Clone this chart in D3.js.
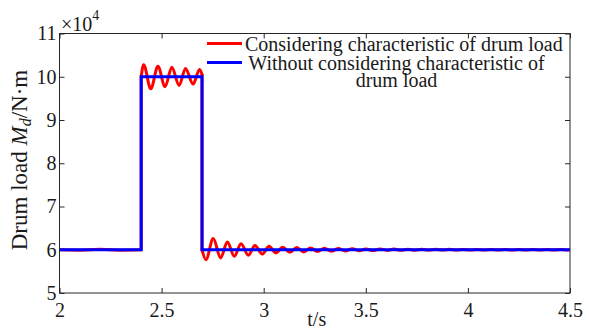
<!DOCTYPE html>
<html>
<head>
<meta charset="utf-8">
<script src="https://cdn.jsdelivr.net/npm/d3@7"></script>
<style>
  html, body { margin: 0; padding: 0; background: #fff; }
  svg { display: block; }
  text { font-family: "Liberation Serif", "Times New Roman", serif; fill: #1a1a1a; }
</style>
</head>
<body>
<svg id="chart" width="589" height="331"></svg>
<script>
// Drum load torque (N·m) versus time (s)
const xTicks = [2, 2.5, 3, 3.5, 4, 4.5];
const yTicks = [50000, 60000, 70000, 80000, 90000, 100000, 110000];

// Load without the drum characteristic: ideal step
const stepLoad = [
  [2.0, 60000], [2.4, 60000], [2.4, 100000], [2.698, 100000], [2.698, 60000], [4.5, 60000]
];

// Load with the drum characteristic, split where the load jumps
const charBefore = [
  [2.0, 60000], [2.1, 59900], [2.2, 60100], [2.3, 59900], [2.4, 60000], [2.4, 100000]
];
const charHigh = [
  [2.4, 100000], [2.412, 102800], [2.447, 97200], [2.482, 102400], [2.517, 97700],
  [2.550, 102200], [2.586, 98000], [2.617, 101900], [2.654, 98300], [2.686, 101700],
  [2.698, 100500]
];
const charDrop = [[2.698, 100500], [2.698, 60000]];
const charLow = [
  [2.698, 60000], [2.717, 57700], [2.753, 62600], [2.789, 58100], [2.822, 61800],
  [2.856, 58500], [2.889, 61400], [2.925, 58700], [2.957, 61000], [2.993, 59000],
  [3.026, 60800], [3.060, 59300], [3.093, 60600], [3.128, 59400], [3.162, 60500],
  [3.196, 59500], [3.230, 60400], [3.264, 59600], [3.297, 60350], [3.331, 59650],
  [3.365, 60300], [3.400, 59700], [3.434, 60250], [3.468, 59750], [3.500, 60200],
  [3.535, 59800], [3.570, 60200], [3.604, 59850], [3.638, 60150], [3.672, 59880],
  [3.706, 60130], [3.740, 59900], [3.774, 60110], [3.808, 59910], [3.842, 60100],
  [3.876, 59920], [3.910, 60090], [3.944, 59930], [3.978, 60080], [4.012, 59940],
  [4.046, 60080], [4.080, 59940], [4.114, 60070], [4.148, 59950], [4.182, 60070],
  [4.216, 59950], [4.250, 60060], [4.284, 59950], [4.318, 60060], [4.352, 59960],
  [4.386, 60060], [4.420, 59960], [4.454, 60050], [4.488, 59960], [4.5, 60000]
];

const legendLabels = [
  ["Considering characteristic of drum load"],
  ["Without considering characteristic of", "drum load"]
];

const svg = d3.select("#chart");
const plotLeft = 59.5, plotRight = 570, plotTop = 33.5, plotBottom = 293;

const x = d3.scaleLinear().domain([2, 4.5]).range([plotLeft, plotRight]);
const y = d3.scaleLinear().domain([50000, 110000]).range([plotBottom, plotTop]);

svg.append("defs").append("clipPath").attr("id", "plotClip")
  .append("rect").attr("x", plotLeft).attr("y", plotTop)
  .attr("width", plotRight - plotLeft).attr("height", plotBottom - plotTop);

const axisColor = "#262626";
const fontSize = 20;

// Axes with inward ticks on all four sides
const gx = svg.append("g").attr("transform", `translate(0,${plotBottom})`)
  .call(d3.axisBottom(x).tickValues(xTicks).tickSizeInner(-5).tickSizeOuter(0)
        .tickPadding(10).tickFormat(d3.format("")));
const gxTop = svg.append("g").attr("transform", `translate(0,${plotTop})`)
  .call(d3.axisTop(x).tickValues(xTicks).tickSizeInner(-5).tickSizeOuter(0).tickFormat(""));
const gy = svg.append("g").attr("transform", `translate(${plotLeft},0)`)
  .call(d3.axisLeft(y).tickValues(yTicks).tickSizeInner(-5).tickSizeOuter(0)
        .tickPadding(3).tickFormat(d => d / 1e4));
const gyRight = svg.append("g").attr("transform", `translate(${plotRight},0)`)
  .call(d3.axisRight(y).tickValues(yTicks).tickSizeInner(-5).tickSizeOuter(0).tickFormat(""));

[gx, gxTop, gy, gyRight].forEach(g => {
  g.select(".domain").remove();
  g.selectAll(".tick line").attr("stroke", axisColor);
  g.selectAll(".tick text").attr("font-size", fontSize)
    .attr("font-family", '"Liberation Serif", "Times New Roman", serif')
    .attr("fill", "#1a1a1a");
});

// Series
const plot = svg.append("g").attr("clip-path", "url(#plotClip)");
const straight = d3.line().x(d => x(d[0])).y(d => y(d[1]));
const smooth = d3.line().x(d => x(d[0])).y(d => y(d[1])).curve(d3.curveMonotoneX);

const red = "#ff0000", blue = "#0000ff";
[[charBefore, straight], [charHigh, smooth], [charDrop, straight], [charLow, smooth]]
  .forEach(([data, gen]) => {
    plot.append("path").datum(data).attr("d", gen)
      .attr("fill", "none").attr("stroke", red).attr("stroke-width", 3)
      .attr("stroke-linejoin", "round").attr("stroke-linecap", "round");
  });
plot.append("path").datum(stepLoad).attr("d", straight)
  .attr("fill", "none").attr("stroke", blue).attr("stroke-width", 3)
  .attr("stroke-linejoin", "miter");

// Frame
svg.append("rect").attr("x", plotLeft).attr("y", plotTop)
  .attr("width", plotRight - plotLeft).attr("height", plotBottom - plotTop)
  .attr("fill", "none").attr("stroke", axisColor).attr("stroke-width", 1);

// Legend
const legend = svg.append("g");
legend.append("line").attr("x1", 207).attr("x2", 242).attr("y1", 43.5).attr("y2", 43.5)
  .attr("stroke", red).attr("stroke-width", 3);
legend.append("text").attr("x", 245).attr("y", 50.5).attr("font-size", fontSize)
  .text(legendLabels[0][0]);
legend.append("line").attr("x1", 207).attr("x2", 242).attr("y1", 62.5).attr("y2", 62.5)
  .attr("stroke", blue).attr("stroke-width", 3);
legendLabels[1].forEach((s, i) => {
  legend.append("text").attr("x", 396.5).attr("y", 69.5 + i * 17)
    .attr("text-anchor", "middle").attr("font-size", fontSize).text(s);
});

// Exponent marker
const expo = svg.append("text").attr("x", 61).attr("y", 31).attr("font-size", fontSize);
expo.append("tspan").text("\u00d710");
expo.append("tspan").attr("font-size", 14).attr("dy", -11).text("4");

// Axis titles
svg.append("text").attr("x", (plotLeft + plotRight) / 2 + 2).attr("y", 326)
  .attr("text-anchor", "middle").attr("font-size", fontSize).text("t/s");

const yl = svg.append("text")
  .attr("transform", "translate(27,160) rotate(-90)")
  .attr("text-anchor", "middle").attr("font-size", 23);
yl.append("tspan").text("Drum load ");
yl.append("tspan").attr("font-style", "italic").text("M");
yl.append("tspan").attr("font-style", "italic").attr("font-size", 16).attr("dy", 4).text("d");
yl.append("tspan").attr("dy", -4).text("/N\u00b7m");
</script>
</body>
</html>
